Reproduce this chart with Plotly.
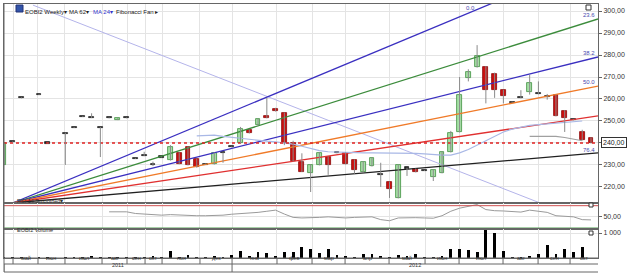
import plotly.graph_objects as go

# ---------------- data ----------------
weeks = list(range(68))
opens = [230, 240.5, 260.5, None, 262, 240, None, 244.5, 247, 252, 251.5, 247, 251.4, 250.6, 251.4, 233, 234.5, 230.4, 233.6, 232.3,
         235.5, 238.2, 232.7, 230.4, 230.4, 235.5, 238.2, 240, 245.9, 248.2, 252.3, 255.5, 253.6, 240, 231.4, 226.4, 230, 233.6, 235.5, 235.5,
         232.3, 226.8, 229.5, 225.5, 222.3, 215, 228.6, 228.2, 227.5, 224.5, 226.4, 235.9, 245, 269.5, 274.5, 274.5, 271.4, 264, 258.6, 260.5,
         263.2, 262.3, 261, 261.8, 254.5, 250.5, 245, 242.3]
highs = [240, 240.7, 260.7, None, 262.2, 240.2, None, 244.7, 247.2, 252.2, 253.5, 247.2, 251.6, 251.4, 251.6, 233.2, 236, 231.5, 233.8, 239,
         235.7, 238.4, 232.9, 230.6, 235.7, 235.7, 238.4, 247.3, 246.1, 251.1, 260.5, 256, 253.8, 241, 235.3, 230.2, 235.7, 233.8, 235.7, 235.7,
         232.5, 231.6, 233.4, 231, 222.5, 230.2, 228.8, 228.4, 227.7, 227.9, 236.1, 245.5, 270, 273.5, 284.5, 275, 272, 264.2, 258.8, 264,
         271, 268, 262.3, 262, 255, 250.7, 246, 242.5]
lows = [230, 240.3, 260.3, None, 261.8, 239.8, None, 230, 246.8, 251.8, 251.3, 233.6, 251.2, 250.4, 251.2, 232.8, 234, 229.5, 233.4, 232,
        230.3, 229.8, 228.8, 230.2, 230.2, 231, 238, 239.8, 244.3, 248, 251.2, 254.3, 239, 231.6, 226.8, 217.7, 229.8, 225.5, 235.3, 230.2,
        226, 226.6, 229.3, 220, 215, 214.8, 225, 226.6, 227.3, 222.7, 226.2, 235.7, 244.8, 268, 274.3, 258, 260.5, 258, 258.4, 260.3,
        262, 262.1, 259.7, 252.1, 245, 250.3, 241.2, 239.8]
closes = [240, 240.5, 260.5, None, 262, 240, None, 244.5, 247, 252, 251.5, 247, 251.4, 251.2, 251.4, 233, 234.5, 230.4, 233.6, 238.2,
          230.5, 230, 229, 230.4, 235.5, 235.5, 238.2, 246.4, 244.5, 250.9, 251.4, 254.5, 240, 231.8, 227, 230, 235.5, 230, 235.5, 230.4,
          227.7, 231.4, 233.2, 225.5, 219, 230, 228.6, 226.8, 227.5, 227.7, 235.9, 244.5, 262, 272.3, 279.5, 264, 264, 261.4, 258.6, 260.5,
          267.3, 262.3, 261, 252.3, 251.4, 250.5, 241.4, 240]
volume = [10, 10, 10, 0, 15, 10, 0, 10, 10, 10, 80, 10, 20, 10, 10, 20, 10, 80, 10, 280,
          20, 120, 20, 30, 100, 20, 120, 280, 60, 240, 200, 80, 260, 260, 440, 360, 200, 360, 120, 60,
          30, 160, 160, 60, 20, 120, 60, 160, 20, 30, 100, 360, 380, 320, 240, 1120, 1000, 300, 40, 40,
          80, 160, 520, 160, 360, 240, 440, 0]
rsi = [None] * 12 + [59, 59, 59, 56, 55, 54, 53, 54, 53, 52, 52, 52, 52, 53, 54.7, 55.5, 57, 58, 60, 62,
                     55, 49, 48, 48, 49, 50, 48.5, 48, 49, 50, 50, 45, 43, 48, 48.5, 48.5, 48, 47.5,
                     52, 60, 65.5, 69, 72, 63, 61, 60.5, 59, 58.5, 62, 60, 58, 52, 51, 50, 45, 44.5]
ma24 = [None] * 22 + [243.2, 243.5, 243.6, 243, 242.5, 242, 241.5, 241, 240.8, 240.5, 240, 239.5, 238.5, 237.5, 236.5,
                      236, 235.8, 235.6, 235.5, 235.5, 235.5, 235.5, 235.4, 235.3, 235.3, 235.3, 235, 234.7, 234.5, 234.5,
                      235.5, 237, 239, 241, 243, 245, 246.3, 247.3, 248, 248.3, 248.7, 249, 249.4, 249.7, 250, None]
ma62 = [None] * 60 + [243, 243, 243, 243, 242.5, 241.8, 241, None]

month_edges = [1.03, 3.88, 6.96, 11.19, 14.04, 16.1, 18.04, 22.37, 26.03, 31.16, 35.16, 38.93, 43.95, 48.06, 51.94,
               56.96, 60.96, 64.61, 67.9]
month_names = ["май", "июн", "июл", "авг", "сен", "окт", "ноя", "дек", "янв", "фев", "мар", "апр", "май", "июн",
               "июл", "авг", "сен", "окт"]
year_edges = [0, 26.03, 67.9]
year_names = ["2011", "2012"]

fan_levels = ["0.0", "23.6", "38.2", "50.0", "61.8", "76.4"]
fan_origin = (1.0, 212.7)
fan_end_x = 67.8
fan_end_prices = [323.6, 296.4, 279.1, 265.9, 252.3, 235.5]
fan_colors = ["#3a2fc0", "#3c8c3c", "#3a2fc0", "#f07a28", "#e03030", "#202020"]
trend_pts_x = [3.3, 61.2]
trend_pts_y = [302.7, 212.7]
level_price = 240

XR = [0, 67.8]
W, H = 629, 278


def py(px):  # pixel y -> paper
    return (H - px) / H


def pxx(px):
    return px / W


fig = go.Figure()

# trend + fan
fig.add_trace(go.Scatter(x=trend_pts_x, y=trend_pts_y, mode="lines",
                         line=dict(color="#b4b4ea", width=1), hoverinfo="skip", showlegend=False))
for lvl, pe, col in zip(fan_levels, fan_end_prices, fan_colors):
    fig.add_trace(go.Scatter(x=[fan_origin[0], fan_end_x], y=[fan_origin[1], pe], mode="lines",
                             line=dict(color=col, width=1.3), hoverinfo="skip", showlegend=False))

# MAs
fig.add_trace(go.Scatter(x=weeks, y=ma24, mode="lines", line=dict(color="#a9b8e6", width=1.2),
                         showlegend=False, connectgaps=False))
fig.add_trace(go.Scatter(x=weeks, y=ma62, mode="lines", line=dict(color="#a0a0a0", width=1.2),
                         showlegend=False))

# 240 dotted line
fig.add_trace(go.Scatter(x=XR, y=[level_price, level_price], mode="lines",
                         line=dict(color="#e02020", width=1.5, dash="dot"), showlegend=False))

# candles: wicks
wx, wy = [], []
for i, (hh, ll) in enumerate(zip(highs, lows)):
    if hh is None:
        continue
    wx += [i, i, None]
    wy += [ll, hh, None]
fig.add_trace(go.Scatter(x=wx, y=wy, mode="lines", line=dict(color="#8a8a8a", width=1),
                         showlegend=False, hoverinfo="skip"))

# candles: bodies
bx, bb, bh, bc, bl = [], [], [], [], []
for i, (o, c) in enumerate(zip(opens, closes)):
    if o is None:
        continue
    lo, hi = min(o, c), max(o, c)
    if hi - lo < 0.3:
        bx.append(i); bb.append(lo - 0.25); bh.append(0.5); bc.append("#222222"); bl.append("#222222")
    elif c > o:
        bx.append(i); bb.append(lo); bh.append(hi - lo); bc.append("#a6dfa6"); bl.append("#3f8f3f")
    else:
        bx.append(i); bb.append(lo); bh.append(hi - lo); bc.append("#cc1010"); bl.append("#8a0a0a")
fig.add_trace(go.Bar(x=bx, y=bh, base=bb, width=0.55, marker=dict(color=bc, line=dict(color=bl, width=0.8)),
                     showlegend=False))

# RSI
fig.add_trace(go.Scatter(x=weeks, y=rsi, mode="lines", line=dict(color="#9a9a9a", width=1),
                         xaxis="x2", yaxis="y2", showlegend=False))
fig.add_trace(go.Scatter(x=XR, y=[70, 70], mode="lines", line=dict(color="#d05050", width=1),
                         xaxis="x2", yaxis="y2", showlegend=False))
fig.add_trace(go.Scatter(x=XR, y=[30, 30], mode="lines", line=dict(color="#50a050", width=1),
                         xaxis="x2", yaxis="y2", showlegend=False))

# Volume
fig.add_trace(go.Bar(x=weeks, y=volume, width=0.32, marker=dict(color="#000000", line=dict(width=0)),
                     xaxis="x3", yaxis="y3", showlegend=False))

main_dom = [py(203), py(4)]
rsi_dom = [py(229), py(203)]
vol_dom = [py(258), py(229)]
xdom = [pxx(4), pxx(598)]

grid = "#e4e4e4"
axfont = dict(family="Liberation Sans, Arial", size=7, color="#333333")
common_x = dict(range=XR, domain=xdom, tickvals=month_edges, showticklabels=False, showgrid=True,
                gridcolor=grid, gridwidth=1, zeroline=False, showline=True, linecolor="#666666", mirror=True,
                ticks="")

fig.update_layout(
    width=W, height=H, margin=dict(l=0, r=0, t=0, b=0),
    paper_bgcolor="white", plot_bgcolor="white",
    separators=", ", barmode="overlay", bargap=0,
    xaxis=dict(anchor="y", **common_x),
    xaxis2=dict(anchor="y2", matches="x", **common_x),
    xaxis3=dict(anchor="y3", matches="x", **common_x),
    yaxis=dict(domain=main_dom, range=[212.7, 303.2], side="right", tickvals=list(range(220, 301, 10)),
               tickformat=".2f", tickfont=axfont, showgrid=True, gridcolor=grid, zeroline=False,
               showline=True, linecolor="#666666", mirror=True, ticks="outside", ticklen=3, tickcolor="#666"),
    yaxis2=dict(domain=rsi_dom, range=[28.2, 74.8], side="right", tickvals=[50], tickformat=".2f",
                tickfont=axfont, showgrid=True, gridcolor=grid, zeroline=False, showline=True,
                linecolor="#666666", mirror=True, ticks="outside", ticklen=3, tickcolor="#666"),
    yaxis3=dict(domain=vol_dom, range=[0, 1160], side="right", tickvals=[1000], tickformat=",d",
                tickfont=axfont, showgrid=True, gridcolor=grid, zeroline=False, showline=True,
                linecolor="#666666", mirror=True, ticks="outside", ticklen=3, tickcolor="#666"),
    font=dict(family="Liberation Sans, Arial", size=7, color="#333333"),
)

hfont = "Liberation Sans, Arial"
ann = []
# header
for xx, txt, col in [(24, "EOBI2 Weekly▾", "#222"), (68, "MA 62▾", "#222"), (92, "MA 24▾", "#3333cc"),
                     (115, "Fibonacci Fan ▸", "#222")]:
    ann.append(dict(x=pxx(xx), y=py(8), xref="paper", yref="paper", text=txt, showarrow=False,
                    xanchor="left", borderpad=0, font=dict(family=hfont, size=6, color=col)))
ann.append(dict(x=pxx(16), y=py(205), xref="paper", yref="paper", text="RSI 14 Smoothed▾", showarrow=False,
                xanchor="left", borderpad=0, font=dict(size=5.5, color="#333")))
ann.append(dict(x=pxx(16), y=py(234), xref="paper", yref="paper", text="EOBI2 Volume", showarrow=False,
                xanchor="left", borderpad=0, font=dict(size=5.5, color="#333")))
# fan labels
lab_pos = {"0.0": (53.2, 301.3, "center"), "23.6": (67.6, 298.2, "right"), "38.2": (67.6, 280.9, "right"),
           "50.0": (67.6, 267.7, "right"), "76.4": (67.6, 236.8, "right")}
for k, (xx, yy, anc) in lab_pos.items():
    ann.append(dict(x=xx, y=yy, xref="x", yref="y", text=k, showarrow=False, xanchor=anc, borderpad=0,
                    font=dict(size=6, color="#4a4ab0")))
# price box
ann.append(dict(x=pxx(601), y=level_price, xref="paper", yref="y", text="240,00", showarrow=False,
                xanchor="left", bgcolor="white", bordercolor="#333", borderwidth=1, borderpad=1,
                font=dict(size=7, color="#222")))
# month labels
for a, b, nm in zip(month_edges[:-1], month_edges[1:], month_names):
    ann.append(dict(x=(a + b) / 2, y=py(261.5), xref="x", yref="paper", text=nm, showarrow=False, borderpad=0,
                    font=dict(size=5.5, color="#333")))
for a, b, nm in zip(year_edges[:-1], year_edges[1:], year_names):
    ann.append(dict(x=(a + b) / 2, y=py(268.5), xref="x", yref="paper", text=nm, showarrow=False, borderpad=0,
                    font=dict(size=5.5, color="#333")))
fig.update_layout(annotations=ann)

shapes = []
# header icon
shapes.append(dict(type="rect", xref="paper", yref="paper", x0=pxx(16), x1=pxx(23), y0=py(12), y1=py(5),
                   fillcolor="#3355aa", line=dict(color="#223377", width=1)))
shapes.append(dict(type="rect", xref="paper", yref="paper", x0=pxx(586), x1=pxx(591), y0=py(10), y1=py(5),
                   fillcolor="white", line=dict(color="#333", width=1)))
for yy in (205, 233):
    shapes.append(dict(type="rect", xref="paper", yref="paper", x0=pxx(589), x1=pxx(593), y0=py(yy + 2),
                       y1=py(yy - 2), fillcolor="white", line=dict(color="#333", width=1)))
# axis label rows
for yy in (258, 264, 272):
    shapes.append(dict(type="line", xref="paper", yref="paper", x0=pxx(4), x1=pxx(598), y0=py(yy), y1=py(yy),
                       line=dict(color="#666", width=1)))
for e in month_edges:
    shapes.append(dict(type="line", xref="x", yref="paper", x0=e, x1=e, y0=py(264), y1=py(258),
                       line=dict(color="#666", width=1)))
for e in year_edges:
    shapes.append(dict(type="line", xref="x", yref="paper", x0=e, x1=e, y0=py(272), y1=py(264),
                       line=dict(color="#666", width=1)))
shapes.append(dict(type="line", xref="paper", yref="paper", x0=pxx(4), x1=pxx(4), y0=py(272), y1=py(4),
                   line=dict(color="#666", width=1)))
fig.update_layout(shapes=shapes)

fig.write_html("out.html")
